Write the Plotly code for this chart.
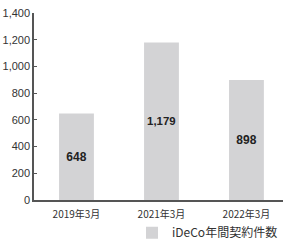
import plotly.graph_objects as go

categories = ["2019年3月", "2021年3月", "2022年3月"]
values = [648, 1179, 898]
value_labels = ["648", "1,179", "898"]
series_name = "iDeCo年間契約件数"
y_ticks = [0, 200, 400, 600, 800, 1000, 1200, 1400]
y_tick_labels = ["0", "200", "400", "600", "800", "1,000", "1,200", "1,400"]

fig = go.Figure()
fig.add_trace(go.Bar(
    x=categories, y=values, name=series_name,
    text=value_labels, textposition="inside", insidetextanchor="middle", textangle=0,
    textfont=dict(family="Liberation Sans Narrow, Liberation Sans, Arial", size=12, color="#222", weight="bold"),
    marker=dict(color="#d3d3d5", line=dict(width=0)),
    width=0.41, showlegend=True,
))

fig.update_layout(
    width=283, height=240,
    margin=dict(l=34, r=0, t=13, b=40, autoexpand=False),
    paper_bgcolor="white", plot_bgcolor="white",
    font=dict(family="Liberation Sans, Arial", size=11, color="#333"),
    showlegend=True,
    legend=dict(orientation="h",
                x=1.0, xanchor="right", y=-0.175, yanchor="middle",
                font=dict(family="Noto Sans CJK JP", size=12, color="#333"),
                bgcolor="rgba(0,0,0,0)"),
    xaxis=dict(range=[-0.5, 2.43], showline=True, linecolor="#555", linewidth=1.5,
               ticks="", showgrid=False, automargin=False, ticklabelstandoff=4,
               tickfont=dict(family="Noto Sans CJK JP", size=10, color="#333")),
    yaxis=dict(range=[0, 1400], tickvals=y_ticks, ticktext=y_tick_labels,
               showline=True, linecolor="#555", linewidth=1.5, automargin=False,
               ticks="inside", ticklen=3, tickcolor="#555", showgrid=False, zeroline=False,
               tickfont=dict(family="Liberation Sans, Arial", size=11, color="#333")),
)

fig.write_html("out.html", config={"displayModeBar": False},
               post_script="document.body.style.margin='0';")
